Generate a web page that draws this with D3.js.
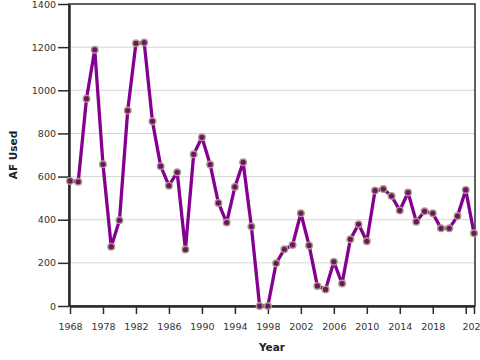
<!DOCTYPE html>
<html>
<head>
    <title>AF Used</title>
    <script src="https://d3js.org/d3.v7.min.js"></script>
    <style>
        body { margin: 0; background: white; }
        #chart { display: block; }
    </style>
</head>
<body>
    <svg id="chart"></svg>
    <script>
        const years = [1968, 1975, 1976, 1977, 1978, 1979, 1980, 1981, 1982, 1983,
            1984, 1985, 1986, 1987, 1988, 1989, 1990, 1991, 1992, 1993,
            1994, 1995, 1996, 1997, 1998, 1999, 2000, 2001, 2002, 2003,
            2004, 2005, 2006, 2007, 2008, 2009, 2010, 2011, 2012, 2013,
            2014, 2015, 2016, 2017, 2018, 2019, 2020, 2021, 2022, 2023];
        const afUsed = [580, 576, 961, 1188, 657, 275, 397, 906, 1218, 1221,
            856, 648, 558, 620, 262, 703, 782, 656, 478, 387,
            552, 666, 368, 0, 0, 198, 263, 283, 430, 281,
            93, 77, 205, 104, 309, 379, 300, 535, 542, 510,
            443, 526, 391, 439, 430, 360, 360, 417, 538, 337];
        const yTicks = [0, 200, 400, 600, 800, 1000, 1200, 1400];
        const xTicks = [1968, 1978, 1982, 1986, 1990, 1994, 1998, 2002, 2006, 2010, 2014, 2018, 2022, 2023];
        const xLabels = [1968, 1978, 1982, 1986, 1990, 1994, 1998, 2002, 2006, 2010, 2014, 2018, 2023];

        const width = 480, height = 360;
        const mLeft = 69, mRight = 475, mTop = 4, mBottom = 306;
        const font = '"DejaVu Sans", sans-serif';

        const svg = d3.select('#chart')
            .attr('width', width)
            .attr('height', height);

        const x = d3.scalePoint()
            .domain(years)
            .range([mLeft + 1, mRight - 1]);

        const y = d3.scaleLinear()
            .domain([0, 1400])
            .range([mBottom, mTop]);

        // grid
        svg.append('g')
            .selectAll('line')
            .data(yTicks.filter(d => d > 0 && d < 1400))
            .join('line')
            .attr('x1', mLeft)
            .attr('x2', mRight)
            .attr('y1', d => y(d))
            .attr('y2', d => y(d))
            .attr('stroke', '#d6d6d6')
            .attr('stroke-width', 1);

        // frame
        svg.append('rect')
            .attr('x', mLeft)
            .attr('y', mTop)
            .attr('width', mRight - mLeft)
            .attr('height', mBottom - mTop)
            .attr('fill', 'none')
            .attr('stroke', '#2b2b2b')
            .attr('stroke-width', 1.5);

        const yAxis = svg.append('g')
            .attr('transform', `translate(${mLeft},0)`)
            .call(d3.axisLeft(y).tickValues(yTicks).tickFormat(d3.format('d'))
                .tickSize(11).tickPadding(2).tickSizeOuter(0));

        const xAxis = svg.append('g')
            .attr('transform', `translate(0,${mBottom})`)
            .call(d3.axisBottom(x).tickValues(xTicks).tickSize(8).tickPadding(9).tickSizeOuter(0)
                .tickFormat(d => xLabels.includes(d) ? d : ''));

        [yAxis, xAxis].forEach(a => {
            a.select('.domain').attr('stroke', '#2b2b2b').attr('stroke-width', 2.5);
            a.selectAll('.tick line').attr('stroke', '#2b2b2b').attr('stroke-width', 1.5);
            a.selectAll('.tick text')
                .attr('fill', '#333')
                .attr('font-size', '9.5px')
                .attr('font-family', font);
        });

        // line
        const line = d3.line()
            .x((d, i) => x(years[i]))
            .y(d => y(d));

        svg.append('path')
            .datum(afUsed)
            .attr('d', line)
            .attr('fill', 'none')
            .attr('stroke', '#860090')
            .attr('stroke-width', 3.3)
            .attr('stroke-linejoin', 'round');

        svg.append('g')
            .selectAll('circle')
            .data(afUsed)
            .join('circle')
            .attr('cx', (d, i) => x(years[i]))
            .attr('cy', d => y(d))
            .attr('r', 3.3)
            .attr('fill', '#6e1466')
            .attr('stroke', '#a99f82')
            .attr('stroke-width', 1.4);

        svg.append('text')
            .attr('x', (mLeft + mRight) / 2)
            .attr('y', 351)
            .attr('text-anchor', 'middle')
            .attr('font-size', '10.5px')
            .attr('font-weight', 'bold')
            .attr('font-family', font)
            .attr('fill', '#222')
            .text('Year');

        svg.append('text')
            .attr('transform', `translate(17,${(mTop + mBottom) / 2}) rotate(-90)`)
            .attr('text-anchor', 'middle')
            .attr('font-size', '10.5px')
            .attr('font-weight', 'bold')
            .attr('font-family', font)
            .attr('fill', '#222')
            .text('AF Used');
    </script>
</body>
</html>
